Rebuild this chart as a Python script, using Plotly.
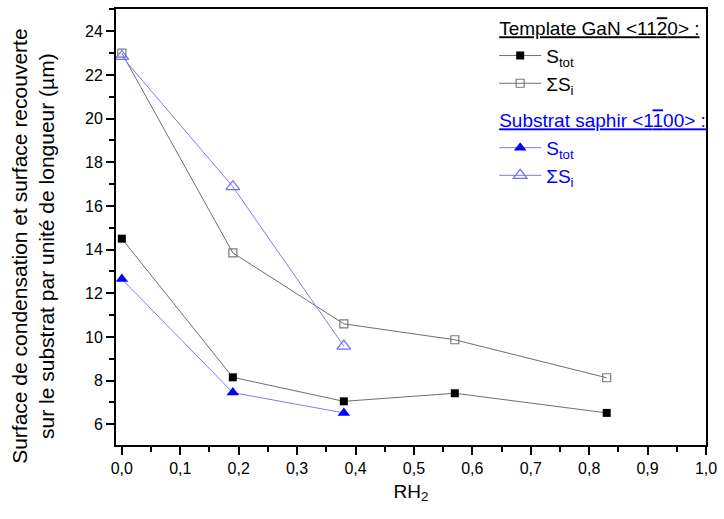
import plotly.graph_objects as go

# RH2 values
rh_gan = [0.0, 0.19, 0.38, 0.57, 0.83]
rh_saphir = [0.0, 0.19, 0.38]

# Template GaN <11-20>
gan_stot = [14.5, 8.15, 7.05, 7.42, 6.52]
gan_sum_si = [23.0, 13.85, 10.6, 9.87, 8.13]

# Substrat saphir <1-100>
saphir_stot = [12.65, 7.45, 6.52]
saphir_sum_si = [22.85, 16.88, 9.58]

x_ticks = [0.0, 0.1, 0.2, 0.3, 0.4, 0.5, 0.6, 0.7, 0.8, 0.9, 1.0]
y_ticks = [6, 8, 10, 12, 14, 16, 18, 20, 22, 24]

FONT = "Liberation Sans, Arial, sans-serif"
GREY_LINE = "#6e6e6e"
BLUE_LINE = "#7b7bff"

fig = go.Figure()

gan_title = (
    "<u>Template GaN &lt;11<span style='text-decoration:overline'>2</span>0&gt; :</u>"
)
saphir_title = (
    "<u>Substrat saphir &lt;1<span style='text-decoration:overline'>1</span>00&gt; :</u>"
)

fig.add_trace(
    go.Scatter(
        x=rh_gan,
        y=gan_stot,
        mode="lines+markers",
        name="S<sub>tot</sub>",
        line={"color": GREY_LINE, "width": 1},
        marker={"symbol": "square", "size": 8, "color": "black"},
        legendgroup="gan",
        legendgrouptitle={"text": gan_title, "font": {"size": 19, "color": "black"}},
    )
)
fig.add_trace(
    go.Scatter(
        x=rh_gan,
        y=gan_sum_si,
        mode="lines+markers",
        name="ΣS<sub>i</sub>",
        line={"color": GREY_LINE, "width": 1},
        marker={
            "symbol": "square-open",
            "size": 8,
            "color": "#7a7a7a",
            "line": {"width": 1.2},
        },
        legendgroup="gan",
    )
)
fig.add_trace(
    go.Scatter(
        x=rh_saphir,
        y=saphir_stot,
        mode="lines+markers",
        name="<span style='color:#0000ff'>S<sub>tot</sub></span>",
        line={"color": BLUE_LINE, "width": 1},
        marker={"symbol": "triangle-up", "size": 11, "color": "#0000ff"},
        legendgroup="saphir",
        legendgrouptitle={
            "text": saphir_title,
            "font": {"size": 19, "color": "#0000ff"},
        },
    )
)
fig.add_trace(
    go.Scatter(
        x=rh_saphir,
        y=saphir_sum_si,
        mode="lines+markers",
        name="<span style='color:#0000ff'>ΣS<sub>i</sub></span>",
        line={"color": BLUE_LINE, "width": 1},
        marker={
            "symbol": "triangle-up-open",
            "size": 12,
            "color": "#6f6fff",
            "line": {"width": 1.2},
        },
        legendgroup="saphir",
    )
)

axis_common = dict(
    showline=True,
    linecolor="black",
    linewidth=2,
    mirror=True,
    ticks="outside",
    tickcolor="black",
    tickwidth=1.5,
    ticklen=8,
    showgrid=False,
    zeroline=False,
    tickfont={"size": 16, "color": "black", "family": FONT},
)

fig.update_layout(
    width=724,
    height=519,
    margin={"l": 116, "r": 15, "t": 7, "b": 74},
    paper_bgcolor="white",
    plot_bgcolor="white",
    separators=", ",
    font={"family": FONT, "color": "black"},
    xaxis=dict(
        axis_common,
        range=[-0.01, 1.0],
        tickvals=x_ticks,
        tickformat=".1f",
        minor={"dtick": 0.05, "ticks": "outside", "ticklen": 5, "tickcolor": "black", "tickwidth": 1.5},
        title={"text": "RH<sub>2</sub>", "font": {"size": 19}, "standoff": 8},
    ),
    yaxis=dict(
        axis_common,
        range=[5.05, 25.02],
        tickvals=y_ticks,
        minor={"dtick": 1, "ticks": "outside", "ticklen": 5, "tickcolor": "black", "tickwidth": 1.5},
    ),
    legend={
        "x": 0.641,
        "y": 1.0,
        "xanchor": "left",
        "yanchor": "top",
        "bgcolor": "rgba(0,0,0,0)",
        "font": {"size": 19, "family": FONT},
        "tracegroupgap": 9,
        "traceorder": "grouped",
        "itemwidth": 42,
    },
    annotations=[
        dict(
            text="Surface de condensation et surface recouverte<br>"
            "sur le substrat par unité de longueur (µm)",
            xref="paper",
            yref="paper",
            x=-0.142,
            y=0.455,
            xanchor="center",
            yanchor="middle",
            textangle=-90,
            showarrow=False,
            font={"size": 21, "family": FONT, "color": "black"},
        )
    ],
)

# drop the default 8 px body margin so the figure sits at the window's corner
fig.write_html(
    "out.html",
    config={"displayModeBar": False},
    post_script="document.body.style.margin = '0';",
)
